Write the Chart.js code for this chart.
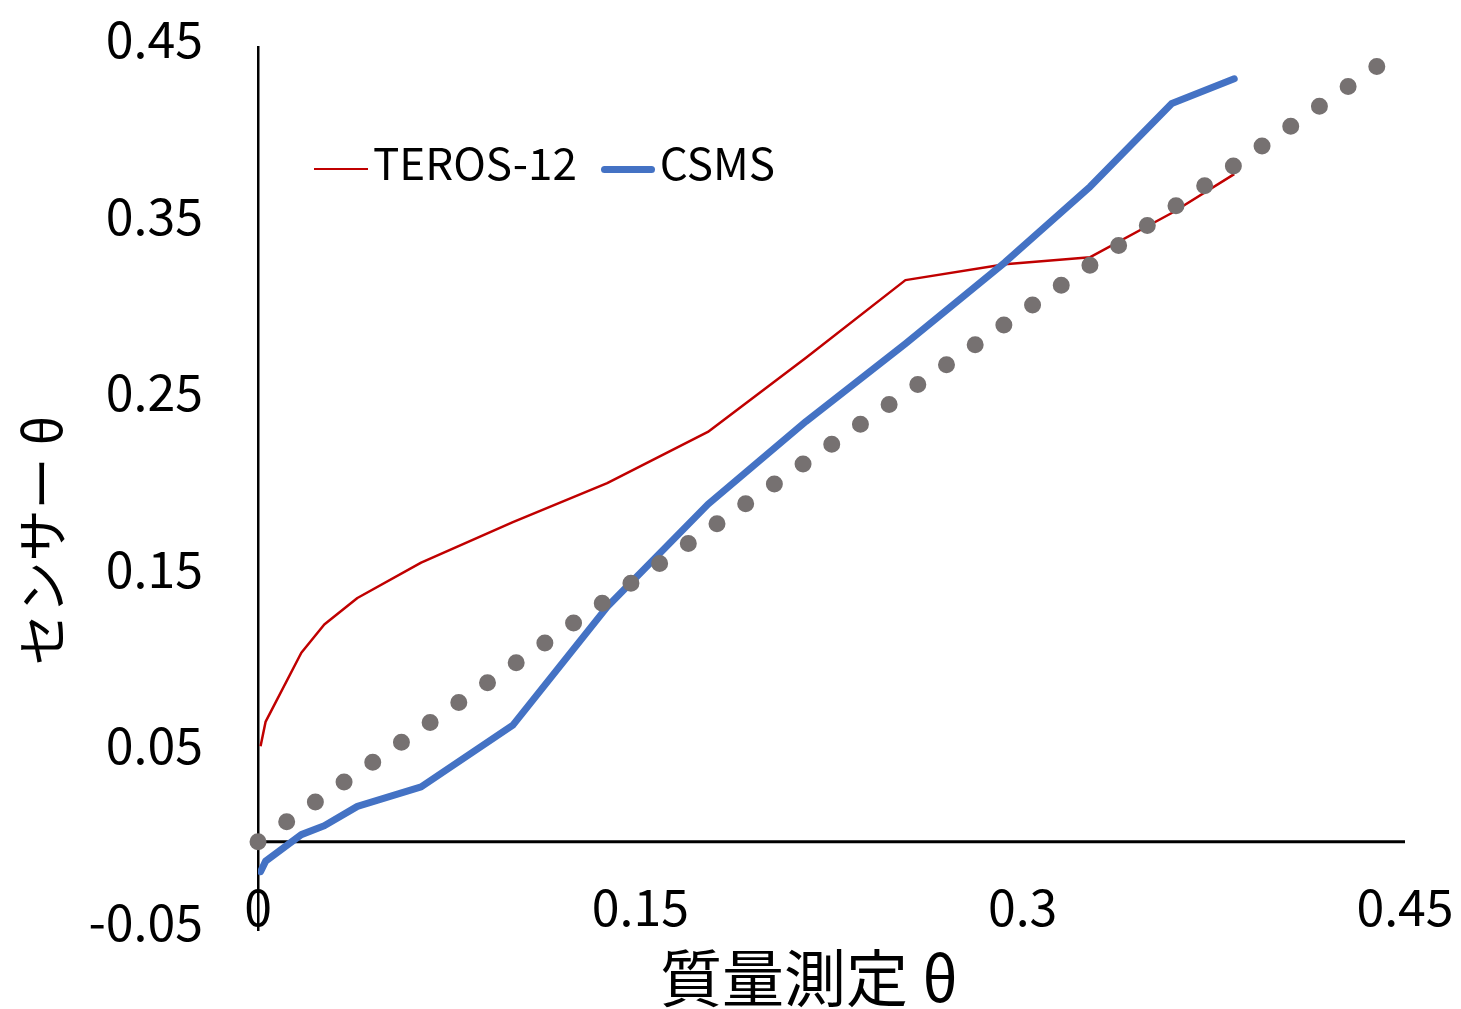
<!DOCTYPE html>
<html>
<head>
<meta charset="utf-8">
<script src="https://cdn.jsdelivr.net/npm/chart.js@4.4.1/dist/chart.umd.min.js"></script>
<style>
    html, body { margin: 0; padding: 0; background: #fff; }
    #wrap { position: relative; width: 1461px; height: 1009px; }
    #legenda {
        position: absolute; left: 314px; top: 139px;
        display: flex; align-items: center;
        font-family: 'Noto Sans CJK JP', sans-serif; font-size: 44px; line-height: 44px; color: #000;
    }
    .item { display: flex; align-items: center; margin-right: 24px; }
    .garis { width: 54px; margin-right: 5px; position: relative; top: 8px; }
</style>
</head>
<body>
<div id="wrap">
    <canvas id="grafik" width="1461" height="1009"></canvas>
    <div id="legenda"></div>
</div>
<script>
// nilai sumbu x (質量測定 θ)
const xNilai = [0.001, 0.003, 0.017, 0.026, 0.039, 0.064, 0.100, 0.137, 0.1765, 0.215, 0.254, 0.293, 0.3265, 0.3585, 0.383];
const teros12 = [0.054, 0.068, 0.107, 0.123, 0.138, 0.158, 0.181, 0.203, 0.232, 0.274, 0.318, 0.327, 0.331, 0.356, 0.378];
const csms = [-0.017, -0.011, 0.004, 0.009, 0.020, 0.031, 0.066, 0.133, 0.191, 0.238, 0.282, 0.328, 0.371, 0.418, 0.432];

// garis 1:1
const garisX = [0, 0.441];
const garisY = [0, 0.441];

// garis sumbu y = 0
const nolX = [0, 0.45];
const nolY = [0, 0];

const xTicks = [0, 0.15, 0.3, 0.45];
const yTicks = [-0.05, 0.05, 0.15, 0.25, 0.35, 0.45];

const FONT = "'Noto Sans CJK JP', 'Noto Sans', sans-serif";
Chart.defaults.font.family = FONT;
Chart.defaults.color = '#000000';

const pasang = (xs, ys) => xs.map((x, i) => ({ x: x, y: ys[i] }));

const ctx = document.getElementById('grafik').getContext('2d');
const grafikChart = new Chart(ctx, {
    type: 'scatter',
    data: {
        datasets: [
            {
                label: '1:1',
                data: pasang(garisX, garisY),
                showLine: true,
                borderColor: '#767171',
                borderWidth: 17,
                borderDash: [0, 34.9],
                borderCapStyle: 'round',
                pointRadius: 0,
                clip: false
            },
            {
                label: 'CSMS',
                data: pasang(xNilai, csms),
                showLine: true,
                borderColor: '#4472C4',
                borderWidth: 7,
                borderCapStyle: 'round',
                borderJoinStyle: 'round',
                pointRadius: 0,
                legenda: 2
            },
            {
                label: 'TEROS-12',
                data: pasang(xNilai, teros12),
                showLine: true,
                borderColor: '#C00000',
                borderWidth: 2.5,
                borderJoinStyle: 'round',
                pointRadius: 0,
                legenda: 1
            },
            {
                label: 'y0',
                data: pasang(nolX, nolY),
                showLine: true,
                borderColor: '#000000',
                borderWidth: 3,
                pointRadius: 0
            }
        ]
    },
    options: {
        responsive: false,
        animation: false,
        devicePixelRatio: 1,
        layout: { padding: { top: 47, right: 56, bottom: 0, left: 0 } },
        plugins: {
            legend: { display: false },
            tooltip: { enabled: false }
        },
        scales: {
            x: {
                type: 'linear',
                min: 0,
                max: 0.45,
                grid: { display: false, drawTicks: false },
                border: { display: false },
                afterBuildTicks: (s) => { s.ticks = xTicks.map(v => ({ value: v })); },
                afterFit: (s) => {
                    s.height = 79;
                    s.paddingLeft = 0;
                    s.paddingRight = 0;
                },
                ticks: {
                    autoSkip: false,
                    maxRotation: 0,
                    mirror: true,
                    padding: -7,
                    font: { size: 50 },
                    callback: (v) => v.toString()
                },
                title: {
                    display: true,
                    text: '質量測定 θ\u2002 ',
                    font: { size: 62, lineHeight: 1 },
                    padding: { top: 0, bottom: 0 }
                }
            },
            y: {
                type: 'linear',
                min: -0.05,
                max: 0.45,
                grid: { display: false, drawTicks: false },
                border: { display: true, color: '#000000', width: 2.5 },
                afterBuildTicks: (s) => { s.ticks = yTicks.map(v => ({ value: v })); },
                afterFit: (s) => {
                    s.width = 258;
                    s.paddingTop = 0;
                    s.paddingBottom = 0;
                },
                ticks: {
                    autoSkip: false,
                    padding: 55,
                    labelOffset: -8,
                    font: { size: 50 },
                    callback: (v) => v.toString()
                },
                title: {
                    display: true,
                    text: 'センサー θ\u3000\u3000',
                    font: { size: 52, lineHeight: 1 },
                    padding: { top: 16, bottom: 0 }
                }
            }
        }
    }
});

// legenda HTML dari dataset
function buatLegenda() {
    const wadah = document.getElementById('legenda');
    const daftar = grafikChart.data.datasets.filter(d => d.legenda).sort((a, b) => a.legenda - b.legenda);
    daftar.forEach(d => {
        const item = document.createElement('div');
        item.className = 'item';
        const garis = document.createElement('div');
        garis.className = 'garis';
        garis.style.height = d.borderWidth + 'px';
        garis.style.background = d.borderColor;
        garis.style.borderRadius = d.borderCapStyle === 'round' ? (d.borderWidth / 2) + 'px' : '0';
        const teks = document.createElement('span');
        teks.textContent = d.label;
        item.appendChild(garis);
        item.appendChild(teks);
        wadah.appendChild(item);
    });
}
buatLegenda();
</script>
</body>
</html>
